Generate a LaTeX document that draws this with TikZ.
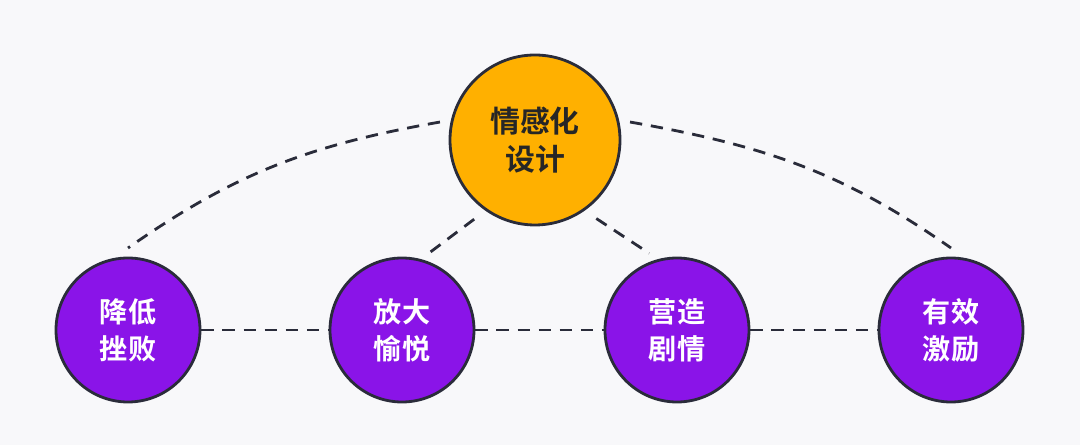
\documentclass[tikz,border=0pt]{standalone}
\usepackage{fontspec}
\newfontfamily\cjk{Noto Sans CJK SC}[BoldFont={Noto Sans CJK SC Bold}]
\usetikzlibrary{positioning}
\definecolor{bgc}{HTML}{F8F8FA}
\definecolor{edgec}{HTML}{2A2C3A}
\definecolor{topc}{HTML}{FFB000}
\definecolor{subc}{HTML}{8A14E8}
\begin{document}
\begin{tikzpicture}[x=0.02cm,y=-0.02cm,
  link/.style={draw=edgec,line width=1.6pt,dash pattern=on 7pt off 5pt},
  hub/.style={circle,draw=edgec,line width=1.6pt,fill=topc,minimum size=170*0.02cm,inner sep=0pt,align=center,font=\cjk\bfseries\fontsize{17}{22}\selectfont,text=black!85},
  leaf/.style={circle,draw=edgec,line width=1.6pt,fill=subc,minimum size=144*0.02cm,inner sep=0pt,align=center,font=\cjk\bfseries\fontsize{16}{21}\selectfont,text=white}]

\fill[bgc] (0,0) rectangle (1080,445);

% links first, circles on top
\coordinate (l1) at (128,248);
\coordinate (l4) at (951,248);
\node[hub] (design) at (535,140) {情感化\\设计};
\node[leaf] (lose) at (128,330) {降低\\挫败};
\node[leaf] (joy) at (402,330) {放大\\愉悦};
\node[leaf] (plot) at (677,330) {营造\\剧情};
\node[leaf] (cheer) at (951,330) {有效\\激励};

\begin{scope}[on background layer/.style={}]
\draw[link] ([xshift=-6pt]design.168) to[out=190,in=35] (l1);
\draw[link] ([xshift=6pt]design.12) to[out=-10,in=145] (l4);
\draw[link,shorten <=8pt,shorten >=6pt] (design.235) -- (joy.75);
\draw[link,shorten <=8pt,shorten >=6pt] (design.305) -- (plot.105);
\draw[link] (lose.east) -- (joy.west);
\draw[link] (joy.east) -- (plot.west);
\draw[link] (plot.east) -- (cheer.west);
\end{scope}
\end{tikzpicture}
\end{document}
